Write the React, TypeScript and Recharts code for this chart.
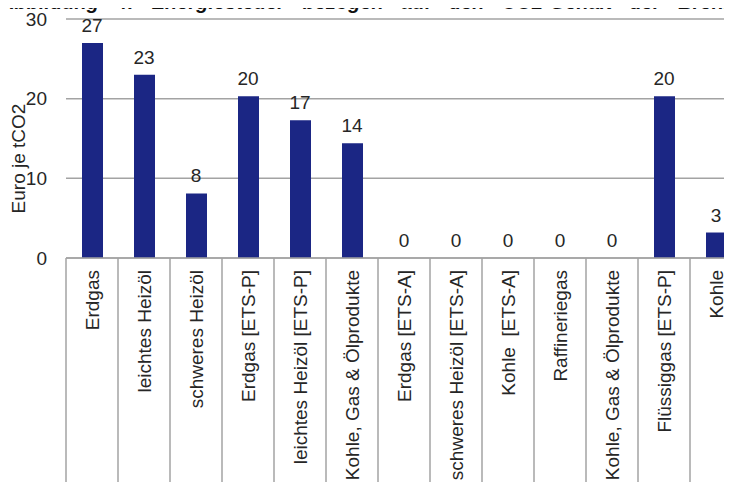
import { Bar, CartesianGrid, ComposedChart, LabelList, Line, XAxis, YAxis } from "recharts";

const categories = [
  "Erdgas",
  "leichtes Heizöl",
  "schweres Heizöl",
  "Erdgas [ETS-P]",
  "leichtes Heizöl [ETS-P]",
  "Kohle, Gas & Ölprodukte",
  "Erdgas [ETS-A]",
  "schweres Heizöl [ETS-A]",
  "Kohle  [ETS-A]",
  "Raffineriegas",
  "Kohle, Gas & Ölprodukte",
  "Flüssiggas [ETS-P]",
  "Kohle",
];
const euroPerTonne = [27.0, 23.0, 8.1, 20.3, 17.3, 14.4, 0, 0, 0, 0, 0, 20.3, 3.2];
const yTicks = [0, 10, 20, 30];

const data = categories.map((name, i) => ({ name, value: euroPerTonne[i] }));

const W = 760;
const H = 530;
const MARGIN = { top: 19, right: 18, bottom: 0, left: 0 };
const Y_WIDTH = 66;
const BAND = (W - MARGIN.left - MARGIN.right - Y_WIDTH) / categories.length;
const FONT = "'Liberation Sans', Arial, sans-serif";
const TEXT = "#262626";
const LINE = "#a3a3a3";

function CategoryTick(props: any) {
  const { x, y, payload, index } = props;
  const ty = y + 12;
  return (
    <g>
      <line x1={x - BAND / 2} y1={y} x2={x - BAND / 2} y2={H} stroke={LINE} strokeWidth={1.5} />
      {index === categories.length - 1 && (
        <line x1={x + BAND / 2} y1={y} x2={x + BAND / 2} y2={H} stroke={LINE} strokeWidth={1.5} />
      )}
      <text
        x={x}
        y={ty}
        transform={`rotate(-90 ${x} ${ty})`}
        textAnchor="end"
        dominantBaseline="central"
        fill={TEXT}
        fontSize={19}
        fontFamily={FONT}
        style={{ whiteSpace: "pre" }}
      >
        {payload.value}
      </text>
    </g>
  );
}

function YTitle(props: any) {
  const vb = props.viewBox;
  const cx = vb.x + 25;
  const cy = vb.y + vb.height / 2 + 20;
  return (
    <text
      x={cx}
      y={cy}
      transform={`rotate(-90 ${cx} ${cy})`}
      textAnchor="middle"
      fill={TEXT}
      fontSize={19}
      fontFamily={FONT}
    >
      Euro je tCO2
    </text>
  );
}

export default function App() {
  return (
    <div style={{ margin: -8, width: 732, height: 490, overflow: "hidden", position: "relative", background: "#fff" }}>
      <ComposedChart width={W} height={H} data={data} margin={MARGIN}>
        <CartesianGrid vertical={false} stroke={LINE} strokeWidth={1.5} />
        <XAxis
          dataKey="name"
          interval={0}
          tickLine={false}
          tickSize={0}
          tickMargin={0}
          axisLine={{ stroke: LINE, strokeWidth: 1.5 }}
          height={H - MARGIN.top - 239}
          tick={<CategoryTick />}
        />
        <YAxis
          width={Y_WIDTH}
          domain={[0, 30]}
          ticks={yTicks}
          axisLine={false}
          tickLine={false}
          tickSize={6}
          tickMargin={13}
          tick={{ fill: TEXT, fontSize: 19, fontFamily: FONT }}
          label={{ content: <YTitle /> }}
        />
        <Bar dataKey="value" fill="#1b2684" barSize={21} isAnimationActive={false} />
        <Line
          dataKey="value"
          stroke="none"
          dot={false}
          activeDot={false}
          legendType="none"
          isAnimationActive={false}
        >
          <LabelList
            dataKey="value"
            position="top"
            offset={11}
            formatter={(v: any) => Math.round(Number(v))}
            fill={TEXT}
            fontSize={19}
            fontFamily={FONT}
          />
        </Line>
      </ComposedChart>
      <svg width={732} height={20} style={{ position: "absolute", left: 0, top: 0, zIndex: 2 }}>
        <text
          x={0}
          y={9}
          fontFamily={FONT}
          fontWeight={700}
          fontStyle="italic"
          fontSize={20}
          wordSpacing={12}
          fill="#111"
        >
          Abbildung 4: Energiesteuer bezogen auf den CO2-Gehalt der Brennstoffe
        </text>
      </svg>
    </div>
  );
}
